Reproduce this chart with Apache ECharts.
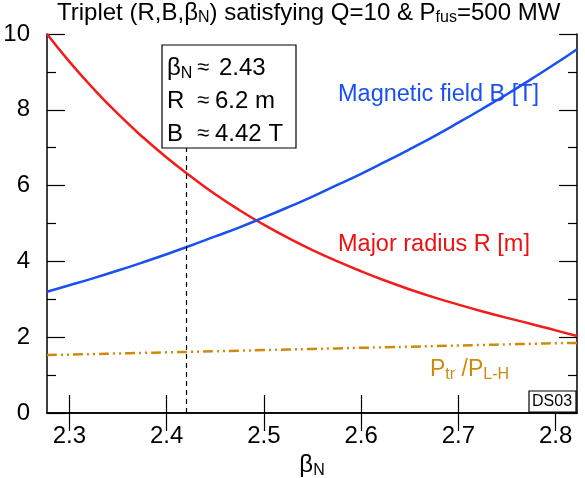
<!DOCTYPE html>
<html><head><meta charset="utf-8">
<script src="https://cdn.jsdelivr.net/npm/echarts@6/dist/echarts.min.js"></script>
<style>html,body{margin:0;padding:0;background:#fff}#c{width:585px;height:478px}</style>
</head><body><div id="c"></div>
<script>
var betaN = [2.277,2.300,2.325,2.350,2.375,2.400,2.425,2.450,2.475,2.500,2.525,2.550,2.575,2.600,2.625,2.650,2.675,2.700,2.725,2.750,2.775,2.800,2.822];
var majorRadius = [10.0,9.27,8.55,7.89,7.29,6.74,6.24,5.77,5.35,4.97,4.62,4.30,4.01,3.74,3.49,3.26,3.05,2.86,2.68,2.51,2.35,2.18,2.03];
var magField = [3.20,3.37,3.56,3.76,3.97,4.19,4.42,4.66,4.90,5.16,5.43,5.71,6.01,6.31,6.63,6.96,7.30,7.66,8.03,8.41,8.81,9.22,9.60];
var ptrRatio = [1.53,1.54,1.555,1.57,1.585,1.60,1.615,1.63,1.645,1.66,1.675,1.69,1.705,1.72,1.735,1.75,1.765,1.78,1.795,1.81,1.825,1.84,1.85];
var xTicks = [2.3,2.4,2.5,2.6,2.7,2.8];
var xMin = 2.277, xMax = 2.822;
var betaMark = 2.42;

function pairs(ys){ return betaN.map(function(b,i){ return [b, ys[i]]; }); }
var F = 'Liberation Sans, Arial, sans-serif';
var chart = echarts.init(document.getElementById('c'), null, {renderer:'canvas'});
var axisLineStyle = {color:'#000', width:1.5};
var gBase = {fontFamily:F, fontSize:24, fill:'#000', lineHeight:28};
var gSub = {fontFamily:F, fontSize:16, fill:'#000', verticalAlign:'bottom', lineHeight:10};
var orange = '#cf8a0e';
var tBox = function(x, y, t, size){ return {type:'text', x:x, y:y, z:11, style:{text:t, font:size+'px '+F, fill:'#000', lineHeight:28, verticalAlign:'top'}}; };

chart.setOption({
  animation:false,
  backgroundColor:'#fff',
  title:{
    text:'{a|Triplet (R,B,β}{s|N}{a|) satisfying Q=10 & P}{s|fus}{a|=500 MW}',
    left:57, top:0, padding:0,
    textStyle:{fontWeight:'normal', rich:{
      a:{fontFamily:F, fontSize:24, fontWeight:'normal', color:'#000', lineHeight:26},
      s:{fontFamily:F, fontSize:16, fontWeight:'normal', color:'#000', verticalAlign:'bottom', lineHeight:10}}}
  },
  grid:{left:47, right:8, top:34, bottom:65, outerBoundsMode:'none', containLabel:false},
  xAxis:[{
    type:'value', min:xMin, max:xMax, position:'bottom',
    axisLine:{show:true, lineStyle:axisLineStyle},
    axisTick:{show:true, inside:true, length:18, lineStyle:{color:'#000', width:1.2}, customValues:xTicks},
    axisLabel:{customValues:xTicks, fontFamily:F, fontSize:24, color:'#000', margin:11, formatter:function(v){return v.toFixed(1);}},
    splitLine:{show:false},
    name:'{a|β}{s|N}', nameLocation:'middle', nameGap:37,
    nameTextStyle:{rich:{
      a:{fontFamily:F, fontSize:24, color:'#000', lineHeight:28},
      s:{fontFamily:F, fontSize:16, color:'#000', verticalAlign:'bottom', lineHeight:10}}}
  },{
    type:'value', min:xMin, max:xMax, position:'top',
    axisLine:{show:true, lineStyle:axisLineStyle},
    axisTick:{show:true, inside:true, length:18, lineStyle:{color:'#000', width:1.2}, customValues:xTicks},
    axisLabel:{show:false}, splitLine:{show:false}
  }],
  yAxis:[{
    type:'value', min:0, max:10, interval:2, position:'left',
    axisLine:{show:true, lineStyle:axisLineStyle},
    axisTick:{show:true, inside:true, length:18, lineStyle:{color:'#000', width:1.2}},
    minorTick:{show:true, splitNumber:2, length:9, lineStyle:{color:'#000', width:1.2}},
    axisLabel:{fontFamily:F, fontSize:24, color:'#000', margin:17},
    splitLine:{show:false}
  },{
    type:'value', min:0, max:10, interval:2, position:'right',
    axisLine:{show:true, lineStyle:axisLineStyle},
    axisTick:{show:true, inside:true, length:18, lineStyle:{color:'#000', width:1.2}},
    minorTick:{show:true, splitNumber:2, length:9, lineStyle:{color:'#000', width:1.2}},
    axisLabel:{show:false}, splitLine:{show:false}
  }],
  series:[
    {type:'line', name:'R', data:pairs(majorRadius), smooth:true, showSymbol:false,
     lineStyle:{color:'#f21c1c', width:2.5},
     markLine:{silent:true, symbol:['none','none'], label:{show:false},
       lineStyle:{type:[5,4], color:'#000', width:1.2},
       data:[[{coord:[betaMark,0]},{coord:[betaMark,7.0]}]]}},
    {type:'line', name:'B', data:pairs(magField), smooth:true, showSymbol:false,
     lineStyle:{color:'#1a50f0', width:2.5}},
    {type:'line', name:'P', data:pairs(ptrRatio), smooth:true, showSymbol:false,
     lineStyle:{color:orange, width:2.5, type:[10,4,2,4,2,4]}}
  ],
  graphic:[
    {type:'rect', shape:{x:162, y:45, width:134, height:103}, style:{fill:'#fff', stroke:'#000', lineWidth:1.2}, z:10},
    {type:'text', x:167, y:54, z:11, style:{text:'{a|β}{s|N}', rich:{a:gBase, s:gSub}}},
    tBox(197, 54, '≈', 22),
    tBox(219, 54, '2.43', 24),
    tBox(167, 87, 'R', 24),
    tBox(197, 87, '≈', 22),
    tBox(215, 87, '6.2 m', 24),
    tBox(167, 120, 'B', 24),
    tBox(197, 120, '≈', 22),
    tBox(215, 120, '4.42 T', 24),
    {type:'text', x:338, y:82, z:11, style:{text:'Magnetic field B [T]', font:'23.5px '+F, fill:'#1a50f0', lineHeight:26, verticalAlign:'top'}},
    {type:'text', x:338, y:232, z:11, style:{text:'Major radius R [m]', font:'23.5px '+F, fill:'#ee1111', lineHeight:26, verticalAlign:'top'}},
    {type:'text', x:430, y:357, z:11, style:{text:'{a|P}{s|tr}{a| /P}{s|L-H}', rich:{
      a:{fontFamily:F, fontSize:23, fill:orange, lineHeight:26},
      s:{fontFamily:F, fontSize:16, fill:orange, verticalAlign:'bottom', lineHeight:10}}}},
    {type:'rect', shape:{x:529, y:391, width:47, height:21}, style:{fill:'#fff', stroke:'#000', lineWidth:1.2}, z:10},
    {type:'text', x:532, y:392, z:11, style:{text:'DS03', font:'16px '+F, fill:'#000', lineHeight:20, verticalAlign:'top'}}
  ]
});
</script></body></html>
